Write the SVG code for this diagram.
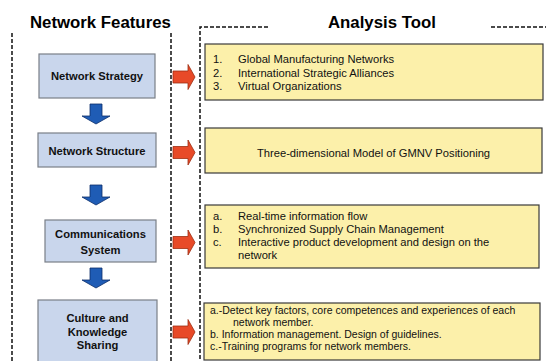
<svg xmlns="http://www.w3.org/2000/svg" width="546" height="361" viewBox="0 0 546 361">
  <style>
    .title { font-family: "Liberation Sans", Arial, sans-serif; font-weight: bold; font-size: 16.8px; fill: #000; }
    .feat { fill: #c9d6ec; stroke: #7a7f88; stroke-width: 1.2; }
    .feat-t { font-family: "Liberation Sans", Arial, sans-serif; font-weight: bold; font-size: 11.2px; fill: #111; text-anchor: middle; }
    .tool { fill: #fcf0aa; stroke: #3a3a3a; stroke-width: 1.2; }
    .tool-t { font-family: "Liberation Sans", Arial, sans-serif; font-size: 11.2px; fill: #111; }
    .tool-s { font-family: "Liberation Sans", Arial, sans-serif; font-size: 10.5px; fill: #111; }
    .dash { fill: none; stroke: #111; stroke-width: 1.5; stroke-dasharray: 4 2; }
    .red { fill: #e84a28; stroke: #9c2e12; stroke-width: 0.8; }
    .blue { fill: #1f5cb5; stroke: #0d2f6a; stroke-width: 0.8; }
  </style>

  <rect width="546" height="361" fill="#fff"/>

  <!-- column frames -->
  <g id="frames">
    <text class="title" x="30" y="27.5">Network Features</text>
    <line class="dash" x1="12" y1="33" x2="12" y2="361"/>
    <line class="dash" x1="171" y1="33" x2="171" y2="361"/>

    <text class="title" x="328" y="27.5">Analysis Tool</text>
    <polyline class="dash" points="268,27 200,27 200,361"/>
    <line class="dash" x1="491" y1="27" x2="546" y2="27"/>
  </g>

  <!-- network feature nodes -->
  <g id="network-strategy">
    <rect class="feat" x="39" y="54" width="116" height="44"/>
    <text class="feat-t" x="97" y="80">Network Strategy</text>
  </g>
  <g id="network-structure">
    <rect class="feat" x="38" y="133" width="118" height="34"/>
    <text class="feat-t" x="97" y="155">Network Structure</text>
  </g>
  <g id="communications-system">
    <rect class="feat" x="45" y="220" width="111" height="42"/>
    <text class="feat-t" x="100.5" y="238">Communications</text>
    <text class="feat-t" x="100.5" y="254">System</text>
  </g>
  <g id="culture-knowledge">
    <rect class="feat" x="38" y="300" width="119" height="66"/>
    <text class="feat-t" x="97.5" y="322">Culture and</text>
    <text class="feat-t" x="97.5" y="336">Knowledge</text>
    <text class="feat-t" x="97.5" y="349">Sharing</text>
  </g>

  <!-- analysis tool nodes -->
  <g id="tool-networks">
    <rect class="tool" x="205" y="44" width="338" height="56"/>
    <text class="tool-t" x="213" y="63">1.</text>
    <text class="tool-t" x="238" y="63">Global Manufacturing Networks</text>
    <text class="tool-t" x="213" y="76.5">2.</text>
    <text class="tool-t" x="238" y="76.5">International Strategic Alliances</text>
    <text class="tool-t" x="213" y="90">3.</text>
    <text class="tool-t" x="238" y="90">Virtual Organizations</text>
  </g>
  <g id="tool-gmnv">
    <rect class="tool" x="205" y="128" width="337" height="45"/>
    <text class="tool-t" x="373.5" y="157" text-anchor="middle">Three-dimensional Model of GMNV Positioning</text>
  </g>
  <g id="tool-communications">
    <rect class="tool" x="205" y="205" width="334" height="63"/>
    <text class="tool-t" x="213" y="220">a.</text>
    <text class="tool-t" x="238" y="220">Real-time information flow</text>
    <text class="tool-t" x="213" y="232.5">b.</text>
    <text class="tool-t" x="238" y="232.5">Synchronized Supply Chain Management</text>
    <text class="tool-t" x="213" y="245.5">c.</text>
    <text class="tool-t" x="238" y="245.5">Interactive product development and design on the</text>
    <text class="tool-t" x="238" y="259">network</text>
  </g>
  <g id="tool-culture">
    <rect class="tool" x="204" y="303" width="336" height="57"/>
    <text class="tool-s" x="210" y="314">a.-Detect key factors, core competences and experiences of each</text>
    <text class="tool-s" x="233" y="326">network member.</text>
    <text class="tool-s" x="210" y="337.5">b.  Information management. Design of guidelines.</text>
    <text class="tool-s" x="210" y="350">c.-Training programs for network members.</text>
  </g>

  <!-- connectors -->
  <g id="connectors">
    <defs>
      <path id="right-arrow" d="M0,-6 H15 V-12.5 L22,0 L15,12.5 V6 H0 Z"/>
      <path id="down-arrow" d="M-6,0 H6 V12 H14 L0,20 L-14,12 H-6 Z"/>
    </defs>
    <use href="#right-arrow" class="red" x="173" y="77"/>
    <use href="#right-arrow" class="red" x="173" y="152.5"/>
    <use href="#right-arrow" class="red" x="173" y="242.5"/>
    <use href="#right-arrow" class="red" x="173" y="332"/>

    <use href="#down-arrow" class="blue" x="96" y="104"/>
    <use href="#down-arrow" class="blue" x="96" y="185"/>
    <use href="#down-arrow" class="blue" x="96" y="268"/>
  </g>
</svg>
